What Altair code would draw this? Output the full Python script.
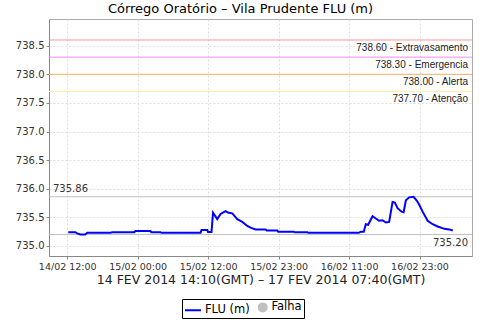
import altair as alt
import pandas as pd

# hours since 14/02 14:00 GMT (= 14/02 12:00 local)
hours = [0.17, 1.37, 1.70, 2.22, 3.07, 3.41, 7.34, 7.68, 11.43, 11.60, 14.16, 14.33,
         15.87, 16.04, 22.70, 22.87, 23.84, 23.98, 24.57, 24.83, 25.55, 26.11, 26.96,
         27.47, 28.11, 28.96, 29.81, 30.67, 31.23, 32.08, 33.79, 33.96, 35.79, 35.92,
         38.57, 38.74, 40.90, 41.04, 49.66, 50.00, 50.51, 50.85, 51.25, 52.00, 52.56,
         53.12, 53.70, 54.27, 54.83, 55.41, 55.80, 56.26, 56.95, 57.29, 57.68, 58.24,
         58.99, 59.56, 59.95, 60.53, 61.38, 62.24, 63.09, 64.22, 65.07, 65.67]
levels = [735.24, 735.24, 735.22, 735.20, 735.20, 735.23, 735.23, 735.24, 735.24, 735.26,
          735.26, 735.24, 735.24, 735.23, 735.23, 735.28, 735.28, 735.245, 735.245, 735.58,
          735.47, 735.56, 735.61, 735.58, 735.57, 735.47, 735.42, 735.35, 735.32, 735.29,
          735.29, 735.27, 735.27, 735.25, 735.25, 735.24, 735.24, 735.23, 735.23, 735.25,
          735.25, 735.38, 735.37, 735.52, 735.48, 735.44, 735.45, 735.41, 735.42, 735.77,
          735.76, 735.66, 735.60, 735.59, 735.80, 735.85, 735.86, 735.79, 735.72, 735.60,
          735.44, 735.38, 735.34, 735.30, 735.29, 735.27]

threshold_values = [738.60, 738.30, 738.00, 737.70]
threshold_labels = ["738.60 - Extravasamento", "738.30 - Emergencia", "738.00 - Alerta", "737.70 - Atenção"]
threshold_colors = ["#f09a9a", "#ff88ff", "#ffb060", "#fff0a0"]

max_value = [735.86]
min_value = [735.20]

x_tick_values = [0, 12, 24, 36, 48, 60]
x_tick_labels = ["14/02 12:00", "15/02 00:00", "15/02 12:00", "15/02 23:00", "16/02 11:00", "16/02 23:00"]
y_tick_values = [735.0, 735.5, 736.0, 736.5, 737.0, 737.5, 738.0, 738.5]

series_names = ["FLU (m)", "Falha"]
series_colors = ["#0000ff", "#c0c0c0"]

df = pd.DataFrame({"h": hours, "v": levels, "serie": "FLU (m)"})
thr = pd.DataFrame({"v": threshold_values, "label": threshold_labels, "cor": threshold_colors})
mx = pd.DataFrame({"v": max_value, "label": [f"{x:.2f}" for x in max_value]})
mn = pd.DataFrame({"v": min_value, "label": [f"{x:.2f}" for x in min_value]})

FONT = "DejaVu Sans"
xscale = alt.Scale(domain=[-3.11, 68.94], nice=False, zero=False)
yscale = alt.Scale(domain=[734.825, 738.967], nice=False, zero=False)

label_js = "[" + ",".join("'" + s + "'" for s in x_tick_labels) + "]"

xaxis = alt.Axis(values=x_tick_values, labelExpr=label_js + "[round(datum.value/12)]",
                 title="14 FEV 2014 14:10(GMT) – 17 FEV 2014 07:40(GMT)", labelOverlap=False)
yaxis = alt.Axis(values=y_tick_values, format=".1f", title=None, labelOverlap=False)


def X():
    return alt.X("h:Q", scale=xscale, axis=xaxis)


def Y():
    return alt.Y("v:Q", scale=yscale, axis=yaxis)


line = alt.Chart(df).mark_line(color="#0000ff", strokeWidth=2, interpolate="linear").encode(x=X(), y=Y())

legend = alt.Legend(orient="none", legendX=133, legendY=280, direction="horizontal", title=None,
                    strokeColor="black", padding=2, labelFontSize=11.5, labelFont=FONT,
                    symbolOpacity=1, symbolStrokeWidth=2, columnPadding=4, labelOffset=3,
                    labelColor="black")
legend_pts = alt.Chart(df).mark_point(filled=True, opacity=0).encode(
    x=X(),
    y=Y(),
    fill=alt.Fill("serie:N", scale=alt.Scale(domain=series_names, range=series_colors), legend=legend),
    stroke=alt.Stroke("serie:N", scale=alt.Scale(domain=series_names, range=series_colors), legend=legend),
    shape=alt.Shape("serie:N", scale=alt.Scale(domain=series_names, range=["stroke", "circle"]), legend=legend),
    size=alt.Size("serie:N", scale=alt.Scale(domain=series_names, range=[256, 64]), legend=legend),
)

thr_rules = alt.Chart(thr).mark_rule(strokeWidth=1).encode(
    y=Y(), color=alt.Color("cor:N", scale=None))
thr_text = alt.Chart(thr).mark_text(align="right", baseline="top", dy=3, fontSize=10,
                                    font="Liberation Sans", color="#222").encode(
    y=Y(), x=alt.value(419), text="label:N")

ref = pd.concat([mx, mn])
ref_rules = alt.Chart(ref).mark_rule(color="#c0c0c0", strokeWidth=1).encode(y=Y())
mx_text = alt.Chart(mx).mark_text(align="left", baseline="bottom", dy=-3, fontSize=10,
                                  font=FONT, color="#333").encode(
    y=Y(), x=alt.value(4), text="label:N")
mn_text = alt.Chart(mn).mark_text(align="right", baseline="top", dy=3, fontSize=10,
                                  font=FONT, color="#333").encode(
    y=Y(), x=alt.value(419), text="label:N")

chart = alt.layer(thr_rules, ref_rules, thr_text, mx_text, mn_text, line, legend_pts).properties(
    width=423, height=237,
    autosize=alt.AutoSizeParams(type="none"),
    padding={"left": 49, "top": 19, "right": 8, "bottom": 64},
    title=alt.TitleParams("Córrego Oratório – Vila Prudente FLU (m)", font=FONT, fontSize=13,
                          fontWeight="normal", anchor="middle", dx=-20, offset=3, color="black"),
).configure_view(stroke="#aaaaaa", strokeWidth=1).configure_axis(
    grid=True, gridDash=[2, 2], gridColor="#dddddd", domainColor="#888888",
    tickColor="#888888", tickSize=3, labelFont=FONT, labelColor="#333333",
    titleFont=FONT, titleFontWeight="normal", titleColor="#222222", labelOverlap=False,
).configure_axisX(labelFontSize=9.5, labelPadding=2, titleFontSize=12.5, titlePadding=3,
                  labelFlush=False).configure_axisY(labelFontSize=10, labelPadding=2, labelOverlap=False)

chart.save("out.html", embed_options={"renderer": "svg", "actions": False})
